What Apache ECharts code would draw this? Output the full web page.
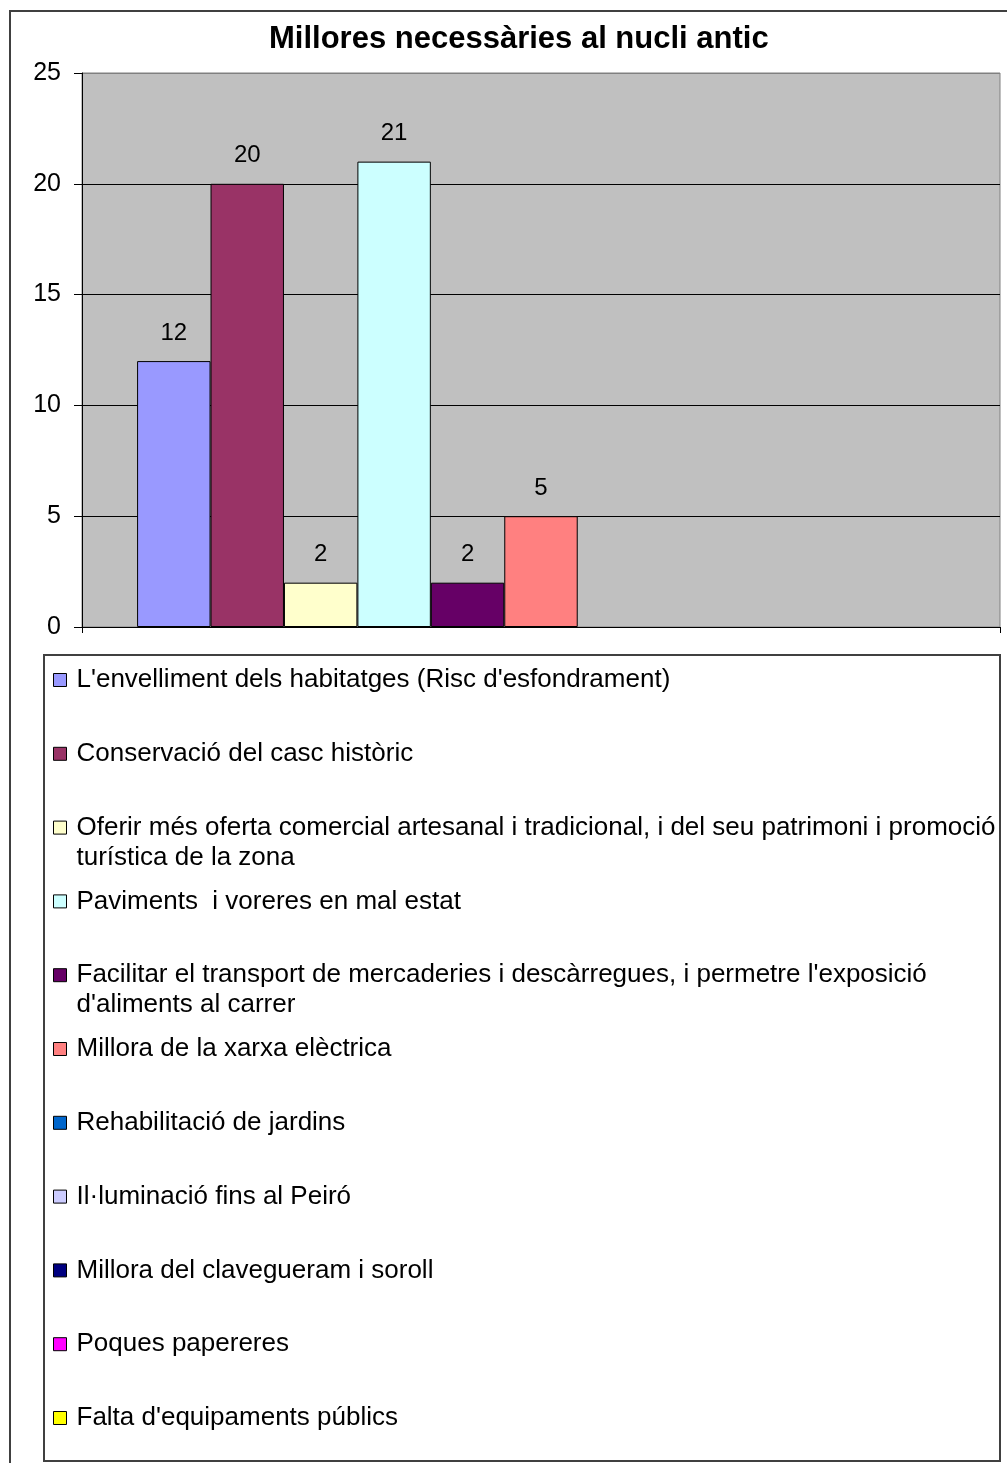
<!DOCTYPE html>
<html>
<head>
<meta charset="utf-8">
<script src="https://cdn.jsdelivr.net/npm/echarts@6/dist/echarts.min.js"></script>
<style>
  html, body { margin: 0; padding: 0; background: #fff; }
  #chart { width: 1007px; height: 1463px; }
</style>
</head>
<body>
<div id="chart"></div>
<script>
// dades del gràfic
const seriesNames = [
  "L'envelliment dels habitatges (Risc d'esfondrament)",
  'Conservació del casc històric',
  'Oferir més oferta comercial artesanal i tradicional, i del seu patrimoni i promoció turística de la zona',
  'Paviments  i voreres en mal estat',
  "Facilitar el transport de mercaderies i descàrregues, i permetre l'exposició d'aliments al carrer",
  'Millora de la xarxa elèctrica',
  'Rehabilitació de jardins',
  'Il·luminació fins al Peiró',
  'Millora del clavegueram i soroll',
  'Poques papereres',
  "Falta d'equipaments públics"
]
const seriesValues = [12, 20, 2, 21, 2, 5, 0, 0, 0, 0, 0]
const seriesColors = ['#9999FF', '#993366', '#FFFFCC', '#CCFFFF', '#660066', '#FF8080',
  '#0066CC', '#CCCCFF', '#000080', '#FF00FF', '#FFFF00']
const yTicks = { min: 0, max: 25, interval: 5 }

const font = "'Liberation Sans', Arial, sans-serif"
const legendLine = 30      // alçada d'una línia de la llegenda
const legendStep = 73.8    // distància entre entrades
const legendFirst = 680    // centre de la primera entrada

// talla el text de la llegenda per paraules (com fa l'Excel)
function wrapText(text, maxChars) {
  const words = text.split(' ')
  const lines = []
  let line = ''
  words.forEach(w => {
    const next = line === '' ? w : line + ' ' + w
    if (next.length > maxChars && line !== '') {
      lines.push(line)
      line = w
    } else {
      line = next
    }
  })
  lines.push(line)
  return lines
}

const chart = echarts.init(document.getElementById('chart'))

const series = seriesNames.map((name, i) => ({
  name: name,
  type: 'bar',
  data: [seriesValues[i]],
  barGap: '0%',
  barCategoryGap: '12%',
  itemStyle: {
    color: seriesColors[i],
    borderColor: '#000',
    borderWidth: seriesValues[i] ? 1 : 0
  },
  label: {
    show: true,
    position: 'top',
    distance: 16,
    fontFamily: font,
    fontSize: 24,
    color: '#000',
    formatter: p => (p.value ? String(p.value) : '')
  }
}))

// una llegenda per entrada; per deixar la icona a la primera línia
// s'afegeixen línies buides a dalt (el text es centra amb la icona)
const legends = seriesNames.map((name, i) => {
  const lines = wrapText(name, 83)
  const blanks = new Array(lines.length - 1).fill('')
  const shown = blanks.concat(lines)
  const center = legendFirst + i * legendStep
  return {
    orient: 'vertical',
    left: 53,
    top: center - shown.length * legendLine / 2,
    padding: 0,
    itemWidth: 13,
    itemHeight: 13,
    icon: 'rect',
    selectedMode: false,
    itemStyle: { borderColor: '#000', borderWidth: 1 },
    formatter: () => shown.join('\n'),
    textStyle: {
      fontFamily: font,
      fontSize: 26,
      color: '#000',
      lineHeight: legendLine,
      padding: [0, 0, 0, 5]
    },
    data: [name]
  }
})

const option = {
  animation: false,
  backgroundColor: '#fff',
  title: {
    text: 'Millores necessàries al nucli antic',
    left: 264,
    top: 19,
    textStyle: { fontFamily: font, fontSize: 31, fontWeight: 'bold', color: '#000' }
  },
  graphic: [
    {
      type: 'rect', z: -1,
      shape: { x: 10, y: 11, width: 1100, height: 1600 },
      style: { fill: null, stroke: '#404040', lineWidth: 2 }
    },
    {
      type: 'rect', z: -1,
      shape: { x: 44, y: 655, width: 956, height: 806 },
      style: { fill: null, stroke: '#404040', lineWidth: 2 }
    }
  ],
  legend: legends,
  grid: {
    left: 82,
    right: 7,
    top: 73,
    bottom: 836,
    show: true,
    backgroundColor: '#C0C0C0',
    borderColor: '#808080',
    borderWidth: 1
  },
  xAxis: {
    type: 'category',
    data: [''],
    axisLine: { lineStyle: { color: '#000', width: 1 } },
    axisTick: { show: true, length: 6, lineStyle: { color: '#000' } },
    axisLabel: { show: false }
  },
  yAxis: {
    type: 'value',
    min: yTicks.min,
    max: yTicks.max,
    interval: yTicks.interval,
    axisLine: { show: true, lineStyle: { color: '#000', width: 1 } },
    axisTick: { show: true, length: 8, lineStyle: { color: '#000' } },
    axisLabel: { margin: 21, fontFamily: font, fontSize: 25, color: '#000' },
    splitLine: {
      show: true,
      lineStyle: { color: ['#000', '#000', '#000', '#000', '#000', '#808080'], width: 1 }
    }
  },
  series: series
}

chart.setOption(option)
</script>
</body>
</html>
